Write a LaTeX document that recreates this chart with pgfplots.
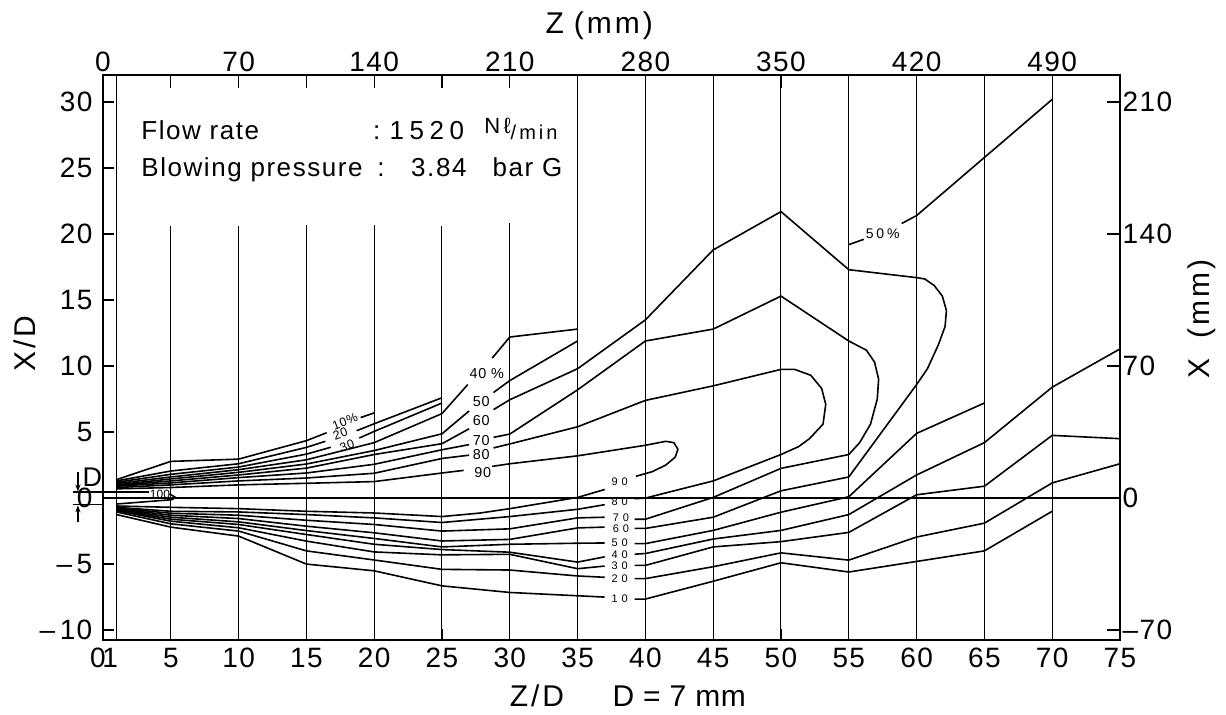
\documentclass[border=0pt]{standalone}
\usepackage{fontspec}
\setmainfont{Liberation Sans}
\newfontfamily\tkf{Liberation Sans}[LetterSpace=5]
\newfontfamily\axf{Liberation Sans}[LetterSpace=10]
\newfontfamily\axg{Liberation Sans}[LetterSpace=2]
\newfontfamily\txf{Liberation Sans}[LetterSpace=6]
\newfontfamily\nmf{Liberation Sans}[LetterSpace=15]
\newfontfamily\upf{Liberation Sans}[LetterSpace=5]
\newfontfamily\lof{Liberation Sans}[LetterSpace=35]
\newfontfamily\pcf{Liberation Sans}[LetterSpace=20]
\usepackage{pgfplots}
\pgfplotsset{compat=1.18}
\usetikzlibrary{arrows.meta}
\pgfplotsset{
  cl/.style={black, line width=0.8pt, line join=round, mark=none},
  vl/.style={black, line width=0.5pt, mark=none},
}
\newcommand\up[5][0]{\node[font=\fontsize{#5}{8}\upf, inner sep=0, rotate=#1] at (axis cs:#2,#3) {#4};}
\newcommand\lo[3]{\node[font=\fontsize{5.5}{6}\lof, inner sep=0] at (axis cs:#1,#2) {#3};}
\begin{document}
\begin{tikzpicture}
\begin{axis}[
  scale only axis, width=508.5pt, height=282.5pt,
  xmin=0, xmax=75, ymin=-10.75, ymax=32.05,
  axis line style={line width=1.3pt},
  xtick pos=left, ytick pos=left,
  tick align=inside, major tick length=5.5pt,
  tick style={black, line width=0.6pt},
  xtick={0,1,5,10,15,20,25,30,35,40,45,50,55,60,65,70,75},
  xticklabels={\hspace*{-5pt}0,\hspace*{-6.4pt}1,5,10,15,20,25,30,35,40,45,50,55,60,65,70,75},
  ytick={-10,-5,0,5,10,15,20,25,30},
  yticklabels={–\,10,–\,5,0,5,10,15,20,25,30},
  xticklabel style={font=\fontsize{14}{16}\tkf, yshift=-0.5pt},
  yticklabel style={font=\fontsize{14}{16}\tkf, xshift=-1.8pt},
  clip=false,
]
% vertical measuring lines
\addplot[vl] coordinates {(1,-10.75)(1,32.05)};
\addplot[vl] coordinates {(5,-10.75)(5,20.6)};
\addplot[vl] coordinates {(10,-10.75)(10,20.6)};
\addplot[vl] coordinates {(15,-10.75)(15,20.7)};
\addplot[vl] coordinates {(20,-10.75)(20,20.7)};
\addplot[vl] coordinates {(25,-10.75)(25,20.6)};
\addplot[vl] coordinates {(30,-10.75)(30,20.8)};
\addplot[vl] coordinates {(35,-10.75)(35,32.05)};
\addplot[vl] coordinates {(40,-10.75)(40,32.05)};
\addplot[vl] coordinates {(45,-10.75)(45,32.05)};
\addplot[vl] coordinates {(50,-10.75)(50,32.05)};
\addplot[vl] coordinates {(55,-10.75)(55,32.05)};
\addplot[vl] coordinates {(60,-10.75)(60,32.05)};
\addplot[vl] coordinates {(65,-10.75)(65,32.05)};
\addplot[vl] coordinates {(70,-10.75)(70,32.05)};
% axis line X=0
\addplot[black, line width=0.9pt] coordinates {(0,0)(75,0)};
% nozzle
\addplot[black, line width=0.7pt] coordinates {(-2.2,0.45)(1,0.45)};
\addplot[black, line width=0.7pt] coordinates {(-2.2,-0.5)(0,-0.5)};
\addplot[black, line width=0.6pt, -{Stealth[length=3.5pt,width=2.6pt]}] coordinates {(-1.85,2.0)(-1.85,0.5)};
\addplot[black, line width=0.6pt, -{Stealth[length=3.5pt,width=2.6pt]}] coordinates {(-1.85,-1.8)(-1.85,-0.55)};
\node[font=\fontsize{13.5}{14}\selectfont, inner sep=0] at (axis cs:-0.78,1.6) {D};
% 100 %
\addplot[cl] coordinates {(1,0.45)(3.4,0.45)};
\addplot[cl] coordinates {(4.9,0.32)(5.35,0.05)(5.1,-0.12)(1,-0.45)};
\node[font=\fontsize{6}{7}\selectfont, inner sep=0] at (axis cs:4.2,0.26) {100};

% ---------- upper contours ----------
% 10
\addplot[cl] coordinates {(1,1.4)(5,2.78)(10,2.95)(15,4.35)(16.5,4.95)};
\addplot[cl] coordinates {(19.0,6.1)(20,6.45)};
% 20
\addplot[cl] coordinates {(1,1.3)(5,2.05)(10,2.6)(15,3.84)(16.4,4.3)};
\addplot[cl] coordinates {(18.7,5.1)(20,5.63)(25,7.6)};
% 30
\addplot[cl] coordinates {(1,1.2)(5,1.8)(10,2.35)(15,3.33)(16.8,3.85)};
\addplot[cl] coordinates {(18.9,4.55)(20,5.05)(25,7.2)};
% 40
\addplot[cl] coordinates {(1,1.1)(5,1.6)(10,2.15)(15,2.9)(20,4.2)(25,6.4)(26.9,8.6)};
\addplot[cl] coordinates {(28.7,10.6)(30,12.2)(35,12.8)};
% 50
\addplot[cl] coordinates {(1,1.0)(5,1.45)(10,1.95)(15,2.58)(20,3.6)(25,4.87)(27,6.6)};
\addplot[cl] coordinates {(28.8,8.0)(30,8.9)(35,11.9)};
% 60 (upper, loop and lower right part)
\addplot[cl] coordinates {(1,0.95)(5,1.3)(10,1.75)(15,2.27)(20,3.3)(25,4.12)(27,5.25)};
\addplot[cl] coordinates {(28.8,6.7)(30,7.45)(35,9.8)(40,13.5)(45,18.8)(50,21.7)(55,17.3)(60,16.7)(60.6,16.6)(61.3,16.1)(61.9,15.3)(62.2,14.2)(62.1,13.0)(61.6,11.6)(60.8,9.8)(60,8.6)(55,1.6)(50,0.55)(45,-1.45)(40,-2.3)(39.2,-2.3)};
% 70
\addplot[cl] coordinates {(1,0.9)(5,1.15)(10,1.55)(15,1.9)(20,2.56)(25,3.66)(27,4.05)};
\addplot[cl] coordinates {(28.8,4.6)(30,4.85)(35,8.2)(40,11.9)(45,12.8)(50,15.3)(55,11.9)(56.3,11.2)(56.9,10.3)(57.2,9.0)(57.1,7.5)(56.6,5.6)(55.8,4.2)(55,3.3)(50,2.25)(45,0.05)(40,-1.6)(39.2,-1.6)};
% 80
\addplot[cl] coordinates {(1,0.8)(5,1.0)(10,1.3)(15,1.52)(20,1.88)(25,3.0)(27,3.25)};
\addplot[cl] coordinates {(28.8,3.8)(30,4.1)(35,5.4)(40,7.4)(45,8.5)(50,9.75)(51,9.75)(52.2,9.3)(53.0,8.3)(53.3,7.1)(53.1,5.6)(52.1,4.5)(51.3,3.9)(50,3.3)(45,1.3)(40,0.0)(39.2,-0.05)};
% 90
\addplot[cl] coordinates {(1,0.7)(5,0.8)(10,1.0)(15,1.12)(20,1.25)(25,1.9)(26.6,2.1)};
\addplot[cl] coordinates {(28.7,2.4)(30,2.6)(35,3.2)(40,4.0)(41.5,4.3)(42.1,4.2)(42.4,3.7)(42.2,3.1)(41.5,2.5)(40.5,2.0)(39.3,1.65)};
% 50 % (outer, top right)
\addplot[cl] coordinates {(55,19.2)(56.1,19.6)};
\addplot[cl] coordinates {(58.9,20.8)(60,21.4)(65,25.8)(70,30.2)};

% ---------- lower contours ----------
\addplot[cl] coordinates {(1,-0.6)(5,-0.7)(10,-0.8)(15,-1.0)(20,-1.13)(25,-1.4)(27.75,-1.14)(30,-0.8)(35,0.05)(37,0.65)};
\addplot[cl] coordinates {(1,-0.7)(5,-1.0)(10,-1.05)(15,-1.25)(20,-1.5)(25,-1.85)(30,-1.4)(35,-0.85)(37,-0.5)};
\addplot[cl] coordinates {(1,-0.75)(5,-1.15)(10,-1.3)(15,-1.68)(20,-2.0)(25,-2.5)(30,-2.33)(35,-1.5)(37,-1.45)};
\addplot[cl] coordinates {(1,-0.8)(5,-1.3)(10,-1.55)(15,-2.13)(20,-2.63)(25,-3.25)(30,-3.13)(35,-2.26)(37,-2.2)};
\addplot[cl] coordinates {(1,-0.85)(5,-1.45)(10,-1.8)(15,-2.46)(20,-3.06)(25,-3.7)(30,-3.5)(35,-3.42)(37,-3.4)};
\addplot[cl] coordinates {(39.2,-3.45)(40,-3.45)(45,-2.45)(50,-1.07)(55,0.1)(60,4.9)(65,7.2)};
\addplot[cl] coordinates {(1,-0.9)(5,-1.6)(10,-2.0)(15,-2.76)(20,-3.5)(25,-3.9)(30,-4.1)(35,-4.85)(37,-4.45)};
\addplot[cl] coordinates {(39.2,-4.25)(40,-4.2)(45,-3.1)(50,-2.45)(55,-1.25)(60,1.75)(65,4.2)(70,8.4)(75,11.3)};
\addplot[cl] coordinates {(1,-0.95)(5,-1.75)(10,-2.25)(15,-3.26)(20,-4.08)(25,-4.3)(30,-4.26)(35,-5.35)(37,-5.15)};
\addplot[cl] coordinates {(39.2,-5.1)(40,-5.1)(45,-3.7)(50,-3.3)(55,-2.6)(60,0.25)(65,0.9)(70,4.75)(75,4.5)};
\addplot[cl] coordinates {(1,-1.05)(5,-1.95)(10,-2.5)(15,-4.0)(20,-4.69)(25,-5.4)(30,-5.45)(35,-5.9)(37,-6.0)};
\addplot[cl] coordinates {(39.2,-6.1)(40,-6.1)(45,-5.2)(50,-4.15)(55,-4.7)(60,-2.95)(65,-1.9)(70,1.15)(75,2.6)};
\addplot[cl] coordinates {(1,-1.25)(5,-2.2)(10,-2.88)(15,-5.0)(20,-5.51)(25,-6.65)(30,-7.15)(35,-7.4)(37,-7.5)};
\addplot[cl] coordinates {(39.2,-7.65)(40,-7.65)(45,-6.3)(50,-4.9)(55,-5.6)(60,-4.8)(65,-4.0)(70,-1.0)};

% ---------- contour labels ----------
\up[21]{17.85}{5.8}{10\%}{6.2}
\up[21]{17.5}{4.85}{20}{6.2}
\up[21]{18.0}{3.95}{30}{6.2}
\up{28.3}{9.45}{40 \%}{7.2}
\up{27.9}{7.3}{50}{7.2}
\up{27.9}{5.9}{60}{7.2}
\up{27.9}{4.35}{70}{7.2}
\up{27.9}{3.3}{80}{7.2}
\up{28.0}{1.95}{90}{7.2}
\lo{38.1}{1.25}{90}
\lo{38.1}{-0.25}{80}
\lo{38.2}{-1.45}{70}
\lo{38.2}{-2.3}{60}
\lo{38.1}{-3.35}{50}
\lo{38.1}{-4.3}{40}
\lo{38.1}{-5.1}{30}
\lo{38.1}{-6.1}{20}
\lo{38.1}{-7.6}{10}
\node[font=\fontsize{7}{8}\pcf, inner sep=0] at (axis cs:57.5,20.0) {50\%};

% ---------- text block ----------
\node[anchor=base west, inner sep=0, font=\fontsize{13}{15}\txf] at (axis cs:2.8,27.2) {Flow rate};
\node[anchor=base west, inner sep=0, font=\fontsize{13}{15}\txf] at (axis cs:19.9,27.2) {:};
\node[anchor=base west, inner sep=0, font=\fontsize{13}{15}\txf] at (axis cs:21.1,27.2) {1\hspace{2.8pt}5\hspace{2.8pt}2\hspace{2.8pt}0};
\node[anchor=base west, inner sep=0, font=\fontsize{10}{12}\nmf] at (axis cs:28.1,27.2) {\raisebox{3pt}{\fontsize{11}{12}\nmf Nℓ}/min};
\node[anchor=base west, inner sep=0, font=\fontsize{13}{15}\txf] at (axis cs:2.8,24.35) {Blowing pressure};
\node[anchor=base west, inner sep=0, font=\fontsize{13}{15}\txf] at (axis cs:20.2,24.35) {:};
\node[anchor=base west, inner sep=0, font=\fontsize{13}{15}\txf] at (axis cs:22.7,24.35) {3.84};
\node[anchor=base west, inner sep=0, font=\fontsize{13}{15}\txf] at (axis cs:28.7,24.35) {bar G};

% ---------- axis titles ----------
\node[font=\fontsize{15}{17}\axf, inner sep=0] at (axis cs:36.6,35.8) {Z\hspace{5pt}(mm)};
\node[font=\fontsize{15}{17}\axf, inner sep=0] at (axis cs:32.0,-15.0) {Z/D};
\node[font=\fontsize{15}{17}\axg, inner sep=0] at (axis cs:42.5,-15.0) {D = 7 mm};
\node[font=\fontsize{15}{17}\axf, inner sep=0, rotate=90] at (axis cs:-5.8,11.7) {X/D};
\node[font=\fontsize{15}{17}\axf, inner sep=0, rotate=90] at (axis cs:81.0,13.6) {X\hspace{10pt}(mm)};

\coordinate (SW) at (rel axis cs:0,0);
\end{axis}
\begin{axis}[
  scale only axis, width=508.5pt, height=282.5pt,
  xmin=0, xmax=75, ymin=-10.75, ymax=32.05,
  axis line style={line width=1.3pt},
  xtick pos=right, ytick pos=right,
  xticklabel pos=right, yticklabel pos=right,
  tick align=inside, major tick length=6.5pt, minor tick length=6.5pt,
  tick style={black, line width=0.6pt},
  xtick={0,10,20,30,40,50,60,70},
  xticklabels={0,70,140,210,280,350,420,490},
  minor xtick={5,15,25,35,45,55,65},
  ytick={-10,0,10,20,30},
  yticklabels={–70,0,70,140,210},
  xticklabel style={font=\fontsize{14}{16}\tkf, yshift=-2pt},
  yticklabel style={font=\fontsize{14}{16}\tkf, xshift=-2.2pt},
]
\end{axis}
\pgfresetboundingbox
\path[use as bounding box] (SW) ++(-51.5pt,-37.5pt) rectangle ++(613pt,357.5pt);
\end{tikzpicture}
\end{document}
